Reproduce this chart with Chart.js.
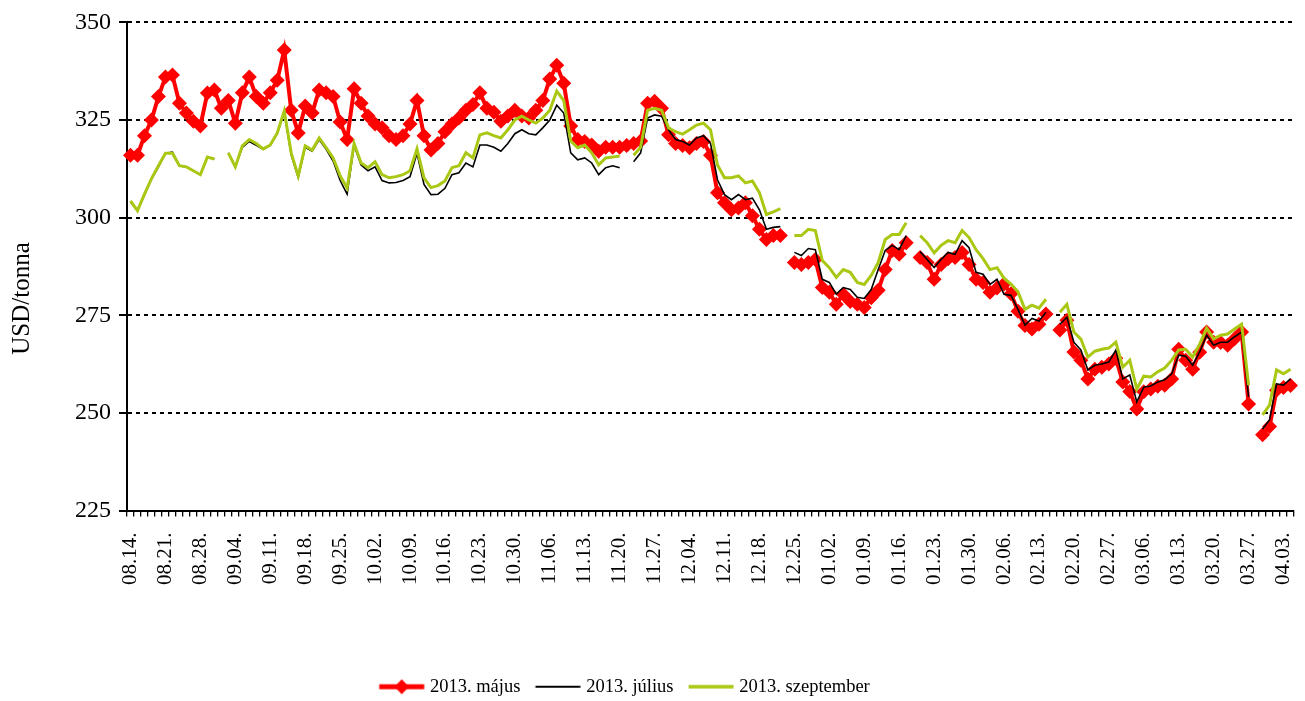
<!DOCTYPE html>
<html><head><meta charset="utf-8">
<script src="https://cdn.jsdelivr.net/npm/chart.js@4.4.1/dist/chart.umd.min.js"></script>
<style>html,body{margin:0;padding:0;background:#fff;}#wrap{width:1305px;height:701px;}</style>
</head><body><div id="wrap"><canvas id="c" width="1305" height="701"></canvas></div>
<script>
const categories = [
'08.14.','08.15.','08.16.','08.19.','08.20.','08.21.','08.22.','08.23.','08.26.','08.27.','08.28.','08.29.','08.30.',
'09.02.','09.03.','09.04.','09.05.','09.06.','09.09.','09.10.','09.11.','09.12.','09.13.','09.16.','09.17.','09.18.','09.19.','09.20.','09.23.','09.24.','09.25.','09.26.','09.27.','09.30.',
'10.01.','10.02.','10.03.','10.04.','10.07.','10.08.','10.09.','10.10.','10.11.','10.14.','10.15.','10.16.','10.17.','10.18.','10.21.','10.22.','10.23.','10.24.','10.25.','10.28.','10.29.','10.30.','10.31.',
'11.01.','11.04.','11.05.','11.06.','11.07.','11.08.','11.11.','11.12.','11.13.','11.14.','11.15.','11.18.','11.19.','11.20.','11.21.','11.22.','11.25.','11.26.','11.27.','11.28.','11.29.',
'12.02.','12.03.','12.04.','12.05.','12.06.','12.09.','12.10.','12.11.','12.12.','12.13.','12.16.','12.17.','12.18.','12.19.','12.20.','12.23.','12.24.','12.25.','12.26.','12.27.','12.30.','12.31.',
'01.02.','01.03.','01.06.','01.07.','01.08.','01.09.','01.10.','01.13.','01.14.','01.15.','01.16.','01.17.','01.20.','01.21.','01.22.','01.23.','01.24.','01.27.','01.28.','01.29.','01.30.','01.31.',
'02.03.','02.04.','02.05.','02.06.','02.07.','02.10.','02.11.','02.12.','02.13.','02.14.','02.17.','02.18.','02.19.','02.20.','02.21.','02.24.','02.25.','02.26.','02.27.','02.28.',
'03.03.','03.04.','03.05.','03.06.','03.07.','03.10.','03.11.','03.12.','03.13.','03.14.','03.17.','03.18.','03.19.','03.20.','03.21.','03.24.','03.25.','03.26.','03.27.','03.28.','03.31.',
'04.01.','04.02.','04.03.','04.04.'
];
const tickLabels = ['08.14.','08.21.','08.28.','09.04.','09.11.','09.18.','09.25.','10.02.','10.09.','10.16.','10.23.','10.30.','11.06.','11.13.','11.20.','11.27.','12.04.','12.11.','12.18.','12.25.','01.02.','01.09.','01.16.','01.23.','01.30.','02.06.','02.13.','02.20.','02.27.','03.06.','03.13.','03.20.','03.27.','04.03.'];
const yTicks = [225, 250, 275, 300, 325, 350];

const may = [
316,316,321,325,331, 336,336.5,329.3,326.8,324.7, 323.5,331.9,332.7,328,330, 324.2,332,336,331,329.3,
332,335.2,342.9,327.5,321.7, 328.6,326.8,332.7,332,331, 324.5,320,333,329.3,326, 324,323,321,320,321,
324,330,321,317.3,319, 322,324,325.5,327.5,329, 332,328,327,324.7,326, 327.5,326,325.5,327.5,330,
335.5,339,334.4,323.5,320, 319.5,318.6,317,318,318, 318,318.5,319,319.6,329.3, 329.8,328,321.2,319,318.5,
317.9,319,319.5,316,306.4, 303.8,302,302.5,303.8,300.5, 297,294.4,295.4,295.4,null, 288.5,288,288.5,289.3,282.1,
280.9,277.8,280.4,278.5,277.8, 277,279.5,281.4,286.7,291.6, 290.6,293.6,null,289.8,288.5, 284.2,288,289.5,289.8,291.1,
288,284.2,283.4,280.9,282, 283,280.5,276,272.4,271.5, 272.7,275.3,null,271.2,273.7, 265.6,263.5,258.7,261.2,261.7,
262.5,264,257.9,255.5,251, 255.4,256.1,256.8,257.1,258.7, 266.3,263.5,261.2,265.5,270.7, 268.1,268,267.3,269,270.7,
252.3,null,244.4,246.5,255.8, 256.5,257
];
const july = [
304,301.8,305.8,309.8,313, 316.5,316.8,313.3,313,312, 311,315.5,315,null,316.6, 313,318,319.5,318.5,317.5,
318.5,321.5,327,316,310.3, 318,317,320,317.5,314.5, 309.5,306,318.5,313.5,312, 313,309.5,308.9,309,309.5,
310.5,316.5,308.5,305.9,306, 307.5,311,311.5,314,313, 318.6,318.6,318,317,319, 321.5,322.5,321.5,321.2,323,
325,328.8,326.8,316.6,314.8, 315.3,314,311,312.8,313.3, 312.8,null,314.3,316.6,325.5, 326.3,326,322.5,320,319.5,
318.6,320.4,321,319,309.7, 305.9,304.6,305.9,304.6,305, 302,297,297.5,297.7,null, 291.1,290.3,292.1,291.8,284.2,
283.4,280.4,282.1,281.6,279.6, 279.3,281.6,286.7,291.6,292.9, 291.8,295.4,null,291.3,289.3, 287.2,289.3,291.1,290.6,294.1,
292.3,286,285.5,282.9,284.2, 280.4,280.1,276.5,272.5,274.2, 273.5,275.8,null,272.7,274.5, 268.1,266.1,261,262.2,262.5,
263,266.1,258.7,259.7,252.8, 256.6,256.9,257.9,258.5,260, 264.8,264.5,262.2,265.6,269.9, 267.3,268.1,268.1,269.5,270.7,
254.1,null,245.9,248.2,257.4, 257.1,258.7
];
const september = [
304.3,301.8,306,310,313.3, 316.5,316.5,313.3,313,312, 311,315.5,315,null,316.6, 313,318.4,320,319,317.6,
318.6,321.7,327.3,316.6,310.7, 318.4,317.3,320.4,317.9,315.3, 310.7,307.6,319,314,312.8, 314.3,311,310.2,310.5,311,
312,317.6,310.2,307.7,308.2, 309.4,312.8,313.3,316.6,315.3, 321.2,321.7,321,320.4,322.5, 325,326,325,324.2,325.5,
327.5,332.4,330,319.6,317.9, 318.6,316.6,313.5,315.3,315.5, 315.8,null,316,318,327.5, 328,327.5,323,322,321.4,
322.5,323.7,324.2,322.5,313.5, 310.2,310.2,310.7,308.9,309.4, 306.4,300.8,301.5,302.3,null, 295.4,295.4,297,296.7,289,
287.2,284.7,286.7,286,283.4, 282.9,285.2,288.5,294.4,295.7, 295.7,298.7,null,295.4,293.6, 291,292.9,294.1,293.6,296.7,
294.9,291.8,289.5,286.7,287.2, 284.5,283,281,276.5,277.6, 276.8,279.1,null,275.8,277.8, 270.7,268.9,264.3,265.8,266.3,
266.6,268.1,261.7,263.5,256.1, 259.4,259.2,260.5,261.5,263.5, 266.1,266.3,264.3,267.6,271.7, 268.9,269.9,270.2,271.5,272.7,
257.1,null,249.5,252,261, 260,261.2
];

const FONT = 'Liberation Serif';
function legendIcon(color, lw, diamond) {
  const c = document.createElement('canvas');
  c.width = 100; c.height = 20;
  const g = c.getContext('2d');
  g.strokeStyle = color; g.lineWidth = lw;
  g.beginPath(); g.moveTo(33.75, 10); g.lineTo(78.75, 10); g.stroke();
  if (diamond) {
    g.fillStyle = color; g.beginPath();
    g.moveTo(49, 10); g.lineTo(56.25, 2.5); g.lineTo(63.5, 10); g.lineTo(56.25, 17.5);
    g.closePath(); g.fill();
  }
  return c;
}
const icons = [legendIcon('#FF0000', 5, true), legendIcon('#000000', 2, false), legendIcon('#A8C814', 3.5, false)];

const layoutTweaks = {
  id: 'layoutTweaks',
  afterLayout(chart) {
    const lg = chart.legend;
    if (lg) { lg.left -= 27; lg.right -= 27; lg.top += 5; lg.bottom += 5; }
    const y = chart.scales.y;
    if (y && !y._titlePatched) {
      const orig = y.drawTitle.bind(y);
      y.drawTitle = function () {
        const t = this.top, b = this.bottom;
        this.top = t + 32; this.bottom = b + 32;
        orig();
        this.top = t; this.bottom = b;
      };
      y._titlePatched = true;
    }
  }
};

new Chart(document.getElementById('c'), {
  type: 'line',
  plugins: [layoutTweaks],
  data: {
    labels: categories,
    datasets: [
      { label: '2013. május', data: may, borderColor: '#FF0000', backgroundColor: '#FF0000', borderWidth: 4,
        pointStyle: 'rectRot', pointRadius: 7.5, pointHoverRadius: 7.5, pointBorderWidth: 0, pointBackgroundColor: '#FF0000', order: 3 },
      { label: '2013. július', data: july, borderColor: '#000000', borderWidth: 1.6, pointRadius: 0, order: 2 },
      { label: '2013. szeptember', data: september, borderColor: '#A8C814', borderWidth: 3, pointRadius: 0, order: 1 }
    ]
  },
  options: {
    responsive: false, animation: false, devicePixelRatio: 1,
    layout: { padding: { top: 19, right: 11, bottom: 0, left: 0 } },
    elements: { line: { tension: 0 } },
    plugins: {
      tooltip: { enabled: false },
      legend: {
        position: 'bottom',
        labels: {
          usePointStyle: true, pointStyleWidth: 50.5, padding: 6, color: '#000',
          font: { family: FONT, size: 18.5 },
          generateLabels: (chart) => chart.data.datasets.map((ds, i) => ({
            text: ds.label, pointStyle: icons[i], fillStyle: 'rgba(0,0,0,0)', strokeStyle: 'rgba(0,0,0,0)',
            lineWidth: 0, hidden: false, datasetIndex: i, fontColor: '#000'
          }))
        }
      }
    },
    scales: {
      x: {
        type: 'category', offset: true,
        afterFit: (s) => { s.height = 156; s.paddingLeft = 0; s.paddingRight = 0; },
        grid: { display: true, drawOnChartArea: false, offset: true, tickLength: 6, color: '#000', lineWidth: 1.3 },
        border: { display: true, color: '#000', width: 2 },
        ticks: {
          autoSkip: false, maxRotation: 90, minRotation: 90, padding: 16, color: '#000',
          font: { family: FONT, size: 21 },
          callback: function (v, i) { const l = categories[i]; return tickLabels.includes(l) ? l : ''; }
        }
      },
      y: {
        min: 225, max: 350,
        afterFit: (s) => { s.width = 127; },
        afterBuildTicks: (s) => { s.ticks = yTicks.map(v => ({ value: v })); },
        grid: { color: '#000', lineWidth: 2, tickLength: 8, tickColor: '#000', tickWidth: 2 },
        border: { display: true, color: '#000', width: 2, dash: [4, 4] },
        ticks: { padding: 8, color: '#000', font: { family: FONT, size: 24 } },
        title: { display: true, text: 'USD/tonna', color: '#000', font: { family: FONT, size: 25 }, padding: { top: 7, bottom: 0 } }
      }
    }
  }
});
</script></body></html>
